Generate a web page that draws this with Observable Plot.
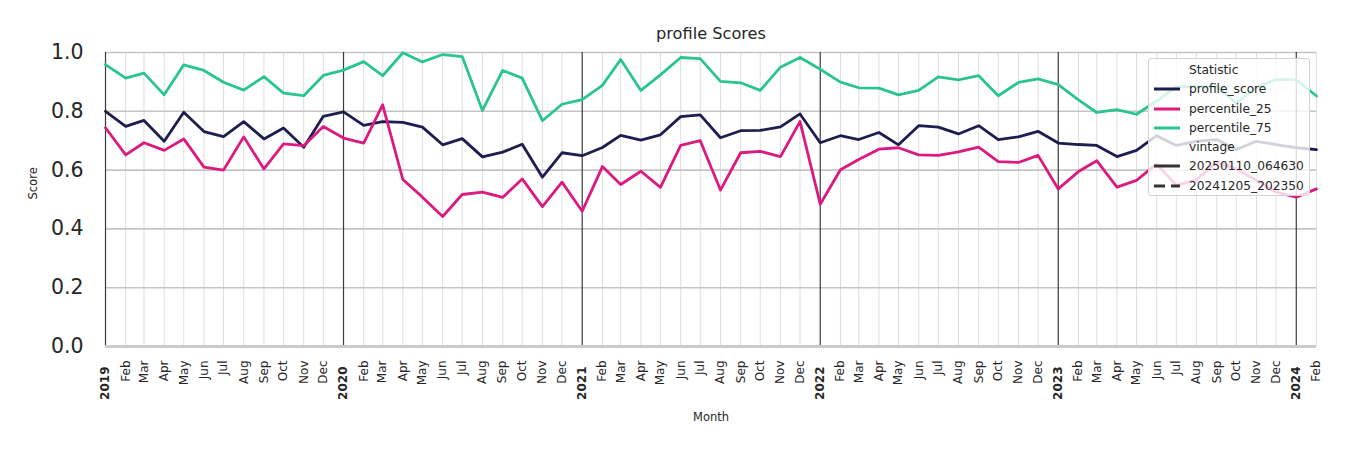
<!DOCTYPE html>
<html>
<head>
<meta charset="utf-8">
<script src="https://cdn.jsdelivr.net/npm/d3@7"></script>
<script src="https://cdn.jsdelivr.net/npm/@observablehq/plot@0.6"></script>
<style>
  body { margin: 0; background: #fff; font-family: "DejaVu Sans", sans-serif; }
  #wrap { position: relative; width: 1350px; height: 450px; }
  .legend { position: absolute; left: 1148px; top: 58px; width: 162px; height: 138px; box-sizing: border-box;
    background: rgba(255,255,255,0.8); border: 1px solid #d2d2d2; border-radius: 3px; font-size: 12.2px; color: #262626; }
  .row { position: absolute; left: 0; height: 16px; line-height: 16px; white-space: nowrap; }
  .row svg { position: absolute; left: 4px; top: 0; }
  .row span { position: absolute; left: 40px; top: 0; }
</style>
</head>
<body>
<div id="wrap"></div>
<script>
// ---- data ----
const firstMonth = "2019-01";
const lastMonth = "2024-02";
const statNames = ["profile_score", "percentile_25", "percentile_75"];
const statColors = ["#1d1d4f", "#db1a80", "#29c490"];
const vintageNames = ["20250110_064630", "20241205_202350"];
const yTicks = [0, 0.2, 0.4, 0.6, 0.8, 1.0];

const profileScore = [
  0.800, 0.749, 0.769, 0.698, 0.797, 0.731, 0.714, 0.765, 0.706, 0.743, 0.678, 0.783,
  0.798, 0.752, 0.765, 0.762, 0.746, 0.686, 0.707, 0.645, 0.661, 0.688, 0.576, 0.659,
  0.649, 0.677, 0.718, 0.702, 0.720, 0.782, 0.788, 0.710, 0.734, 0.735, 0.747, 0.791,
  0.693, 0.717, 0.704, 0.728, 0.686, 0.751, 0.746, 0.723, 0.751, 0.704, 0.713, 0.732,
  0.692, 0.687, 0.684, 0.646, 0.667, 0.717, 0.684, 0.698, 0.704, 0.670, 0.698, 0.687,
  0.676, 0.670
];
const percentile25 = [
  0.744, 0.652, 0.693, 0.667, 0.706, 0.610, 0.600, 0.713, 0.604, 0.689, 0.683, 0.748,
  0.709, 0.692, 0.822, 0.568, 0.508, 0.442, 0.517, 0.525, 0.507, 0.570, 0.476, 0.559,
  0.460, 0.612, 0.551, 0.596, 0.541, 0.684, 0.700, 0.532, 0.659, 0.664, 0.646, 0.765,
  0.484, 0.601, 0.636, 0.671, 0.676, 0.652, 0.650, 0.662, 0.678, 0.629, 0.626, 0.650,
  0.536, 0.595, 0.632, 0.542, 0.565, 0.621, 0.548, 0.567, 0.627, 0.604, 0.565, 0.525,
  0.508, 0.536
];
const percentile75 = [
  0.959, 0.913, 0.930, 0.856, 0.958, 0.939, 0.899, 0.872, 0.918, 0.862, 0.853, 0.922,
  0.940, 0.969, 0.921, 0.999, 0.968, 0.993, 0.986, 0.803, 0.939, 0.913, 0.768, 0.824,
  0.840, 0.888, 0.976, 0.871, 0.924, 0.983, 0.979, 0.902, 0.897, 0.871, 0.950, 0.983,
  0.943, 0.899, 0.880, 0.879, 0.856, 0.871, 0.917, 0.907, 0.921, 0.853, 0.898, 0.910,
  0.891, 0.839, 0.796, 0.806, 0.790, 0.835, 0.884, 0.884, 0.884, 0.828, 0.882, 0.908,
  0.908, 0.852
];

// ---- build table ----
const parseMonth = d3.utcParse("%Y-%m");
const months = d3.utcMonth.range(parseMonth(firstMonth), d3.utcMonth.offset(parseMonth(lastMonth), 1));
const seriesValues = [profileScore, percentile25, percentile75];
const rows = [];
statNames.forEach((name, s) => seriesValues[s].forEach((v, i) => rows.push({ month: months[i], value: v, stat: name })));
const yearStarts = months.filter(d => d.getUTCMonth() === 0);
const otherMonths = months.filter(d => d.getUTCMonth() !== 0);

const chart = Plot.plot({
  width: 1350, height: 450,
  marginLeft: 105, marginRight: 34, marginTop: 52, marginBottom: 104,
  style: { fontFamily: '"DejaVu Sans", sans-serif', color: "#262626", background: "#fff", overflow: "visible" },
  x: { type: "utc", domain: [months[0], months[months.length - 1]] },
  y: { domain: [0, 1] },
  color: { domain: statNames, range: statColors },
  marks: [
    Plot.gridX(otherMonths, { stroke: "#dedede", strokeOpacity: 1, strokeWidth: 1 }),
    Plot.gridY(yTicks.slice(1), { stroke: "#c4c4c4", strokeOpacity: 1, strokeWidth: 1.6 }),
    Plot.ruleX(yearStarts, { stroke: "#3a3a3a", strokeWidth: 1.2 }),
    Plot.ruleY([0], { stroke: "#cbcbcb", strokeWidth: 3 }),
    Plot.lineY(rows, { x: "month", y: "value", z: "stat", stroke: "stat", strokeWidth: 2.8 }),
    Plot.axisY({ ticks: yTicks, tickFormat: d3.format(".1f"), tickSize: 0, tickPadding: 22, fontSize: 20.5, label: null }),
    Plot.axisX({ ticks: otherMonths, tickFormat: d3.utcFormat("%b"), tickRotate: -90, tickSize: 0, tickPadding: 14, fontSize: 12, label: null }),
    Plot.axisX({ ticks: yearStarts, tickFormat: d3.utcFormat("%Y"), tickRotate: -90, tickSize: 0, tickPadding: 20, fontSize: 12, fontWeight: "bold", label: null }),
    Plot.text(["profile Scores"], { text: d => d, frameAnchor: "top", dy: -25, fontSize: 16.2 }),
    Plot.text(["Score"], { text: d => d, frameAnchor: "left", dx: -72, rotate: -90, fontSize: 11.5 }),
    Plot.text(["Month"], { text: d => d, frameAnchor: "bottom", dy: 74, fontSize: 11.5 })
  ]
});

const wrap = document.getElementById("wrap");
wrap.appendChild(chart);

// ---- legend ----
const legend = document.createElement("div");
legend.className = "legend";
const legendRows = [
  { label: "Statistic" },
  ...statNames.map((n, i) => ({ label: n, color: statColors[i], dash: null })),
  { label: "vintage" },
  { label: vintageNames[0], color: "#333333", dash: null },
  { label: vintageNames[1], color: "#333333", dash: "11,6" }
];
legendRows.forEach((r, k) => {
  const row = document.createElement("div");
  row.className = "row";
  row.style.top = (3 + k * 19.25) + "px";
  if (r.color) {
    const ns = "http://www.w3.org/2000/svg";
    const svg = document.createElementNS(ns, "svg");
    svg.setAttribute("width", 28); svg.setAttribute("height", 16);
    const line = document.createElementNS(ns, "line");
    line.setAttribute("x1", 1); line.setAttribute("x2", 27);
    line.setAttribute("y1", 8); line.setAttribute("y2", 8);
    line.setAttribute("stroke", r.color); line.setAttribute("stroke-width", 3);
    if (r.dash) line.setAttribute("stroke-dasharray", r.dash);
    svg.appendChild(line);
    row.appendChild(svg);
  }
  const span = document.createElement("span");
  span.textContent = r.label;
  row.appendChild(span);
  legend.appendChild(row);
});
wrap.appendChild(legend);
</script>
</body>
</html>
